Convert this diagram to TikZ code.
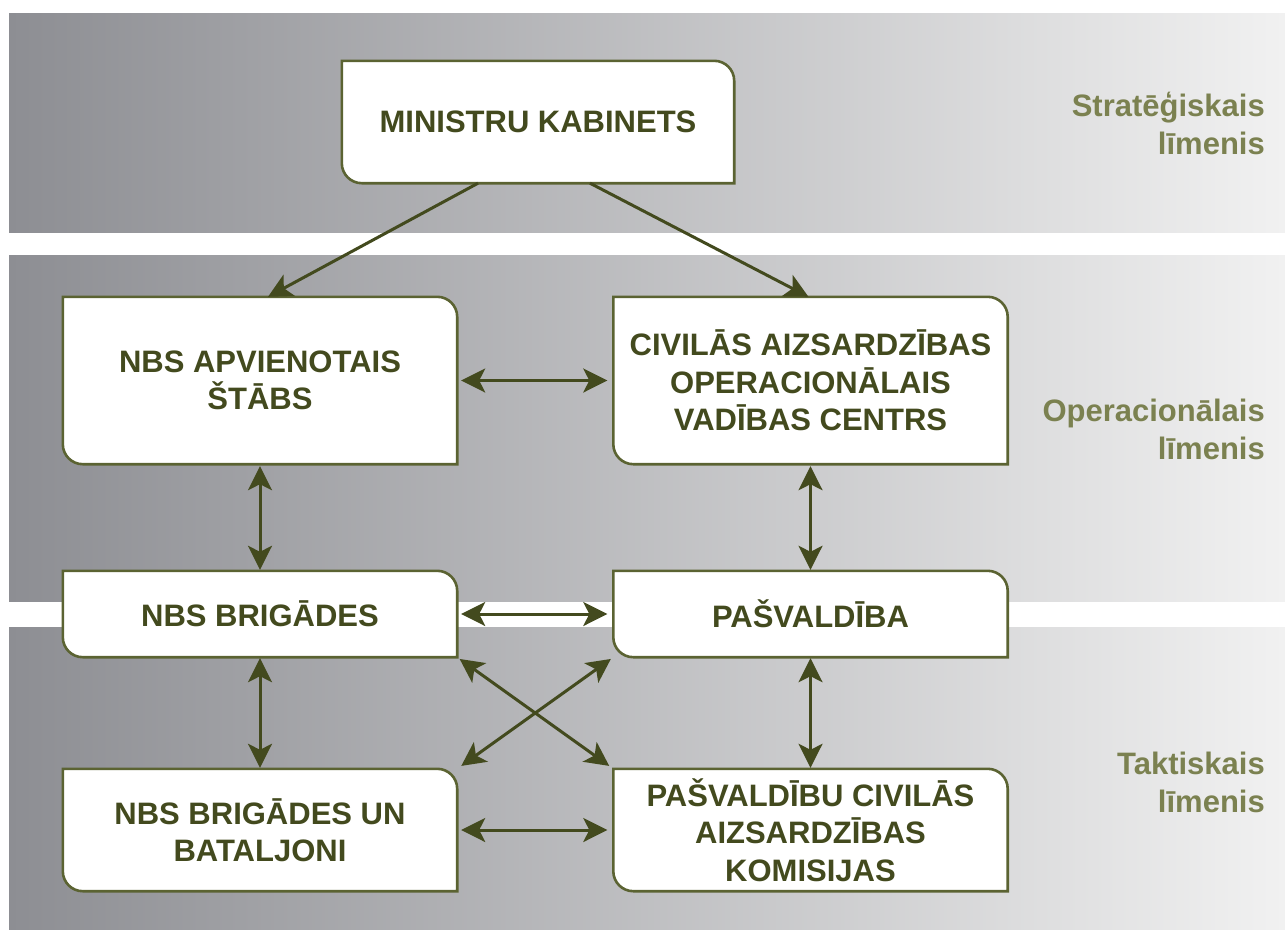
\documentclass[tikz,border=0pt]{standalone}
\usepackage{fontspec}
\setmainfont{Liberation Sans}
\usepackage{xcolor}
\usepackage{tikz}
\usetikzlibrary{arrows.meta}

\pgfdeclarelayer{bands}
\pgfdeclarelayer{boxes}
\pgfsetlayers{bands,boxes,main}

\definecolor{olivetext}{HTML}{434A1E}
\definecolor{oliveline}{HTML}{5B6332}
\definecolor{olivelabel}{HTML}{7B8150}
\definecolor{bandleft}{HTML}{8D8E93}
\definecolor{bandright}{HTML}{F1F1F1}

% outline with two round corners (top right, bottom left)
\newcommand{\boxoutline}[1]{%
  \begin{pgfonlayer}{boxes}
    \draw[boxline] (#1.north west) -- ([xshift=-20pt]#1.north east)
      arc[start angle=90,end angle=0,radius=20pt] -- (#1.south east)
      -- ([xshift=20pt]#1.south west)
      arc[start angle=270,end angle=180,radius=20pt] -- cycle;
  \end{pgfonlayer}}

\begin{document}
\begin{tikzpicture}[x=1pt,y=1pt]
        \tikzset{box/.style = {minimum width=394pt, inner sep=0pt, align=center,
                 text=olivetext, font=\fontsize{31}{37.5}\selectfont\bfseries}}
        \tikzset{side/.style = {anchor=east, inner sep=0pt, align=right,
                 text=olivelabel, font=\fontsize{31}{38}\selectfont\bfseries}}
        \tikzset{boxline/.style = {draw=oliveline, line width=2.6pt, fill=white}}
        \tikzset{link/.style = {olivetext, line width=3pt, -{Stealth[length=24pt,width=24pt,inset=6pt]}}}
        \tikzset{twolink/.style = {olivetext, line width=3pt,
                 {Stealth[length=24pt,width=24pt,inset=6pt]}-{Stealth[length=24pt,width=24pt,inset=6pt]}}}

        \useasboundingbox (0,0) rectangle (1285,-929);

        % bands
        \begin{pgfonlayer}{bands}
        \fill[white] (0,0) rectangle (1285,-929);
        \shade[left color=bandleft,right color=bandright] (9,-13) rectangle (1285,-232);
        \shade[left color=bandleft,right color=bandright] (9,-255) rectangle (1285,-601);
        \shade[left color=bandleft,right color=bandright] (9,-627) rectangle (1285,-929);
        \end{pgfonlayer}

        % boxes
        \node[box, minimum width=392pt, minimum height=122pt] (kabinets) at (538,-122) {MINISTRU KABINETS};
        \node[box, minimum height=167pt] (stabs) at (260,-380.5) {NBS APVIENOTAIS\\ŠTĀBS};
        \node[box, minimum height=167pt] (centrs) at (810.5,-380.5) {CIVILĀS AIZSARDZĪBAS\\OPERACIONĀLAIS\\VADĪBAS CENTRS};
        \node[box, minimum height=86pt] (brigades) at (260,-614) {NBS BRIGĀDES};
        \node[box, minimum height=86pt] (pasvaldiba) at (810.5,-614) {PAŠVALDĪBA};
        \node[box, minimum height=122pt] (bataljoni) at (260,-830) {NBS BRIGĀDES UN\\BATALJONI};
        \node[box, minimum height=122pt] (komisijas) at (810.5,-830) {PAŠVALDĪBU CIVILĀS\\AIZSARDZĪBAS\\KOMISIJAS};
        \boxoutline{kabinets}
        \boxoutline{stabs}
        \boxoutline{centrs}
        \boxoutline{brigades}
        \boxoutline{pasvaldiba}
        \boxoutline{bataljoni}
        \boxoutline{komisijas}

        % levels
        \node[side] (strategiskais) at (1265,-123) {Stratēģiskais\\līmenis};
        \node[side] (operacionalais) at (1265,-429) {Operacionālais\\līmenis};
        \node[side] (taktiskais) at (1265,-782) {Taktiskais\\līmenis};

        % links
        \draw[link] ([xshift=-60pt]kabinets.south) -- ([xshift=8pt]stabs.north);
        \draw[link] ([xshift=52pt]kabinets.south) -- ([xshift=-2pt]centrs.north);
        \draw[twolink, shorten <=4pt, shorten >=6pt] (stabs.east) -- (centrs.west);
        \draw[twolink, shorten <=4pt, shorten >=6pt] (brigades.east) -- (pasvaldiba.west);
        \draw[twolink, shorten <=4pt, shorten >=6pt] (bataljoni.east) -- (komisijas.west);
        \draw[twolink, shorten <=2pt, shorten >=1pt] (stabs.south) -- (brigades.north);
        \draw[twolink, shorten <=2pt, shorten >=1pt] (centrs.south) -- (pasvaldiba.north);
        \draw[twolink, shorten <=1pt, shorten >=1pt] (brigades.south) -- (bataljoni.north);
        \draw[twolink, shorten <=1pt, shorten >=1pt] (pasvaldiba.south) -- (komisijas.north);

        % cross links
        \draw[twolink, shorten <=3pt, shorten >=5pt] (brigades.south east) -- (komisijas.north west);
        \draw[twolink, shorten <=3pt, shorten >=5pt] (pasvaldiba.south west) -- (bataljoni.north east);
\end{tikzpicture}
\end{document}
